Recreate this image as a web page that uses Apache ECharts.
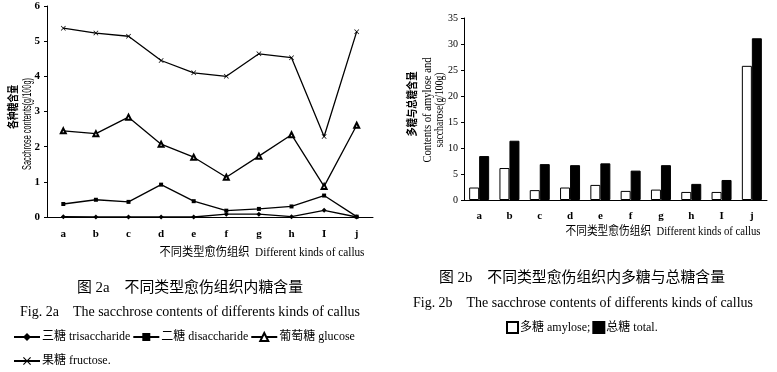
<!DOCTYPE html>
<html>
<head>
<meta charset="utf-8">
<script src="https://cdn.jsdelivr.net/npm/echarts@6/dist/echarts.min.js"></script>
<style>
  html, body { margin: 0; padding: 0; background: #fff; }
  #main { width: 777px; height: 372px; }
</style>
</head>
<body>
<div id="main"></div>
<script>
// 愈伤组织类别
var categories = ['a', 'b', 'c', 'd', 'e', 'f', 'g', 'h', 'I', 'j'];

// 图 2a 各种糖含量 (g/100g)
var trisaccharide = [0.01, 0, 0, 0, 0, 0.08, 0.08, 0.01, 0.19, 0];
var disaccharide = [0.37, 0.49, 0.43, 0.92, 0.45, 0.18, 0.23, 0.30, 0.61, 0.01];
var glucose = [2.45, 2.37, 2.84, 2.07, 1.70, 1.13, 1.73, 2.34, 0.87, 2.61];
var fructose = [5.37, 5.23, 5.14, 4.45, 4.10, 4.00, 4.64, 4.53, 2.29, 5.27];

// 图 2b 多糖与总糖含量 (g/100g)
var amylose = [2.4, 6.15, 1.9, 2.4, 2.9, 1.75, 2.0, 1.55, 1.55, 25.8];
var total = [8.45, 11.4, 6.9, 6.7, 7.05, 5.65, 6.7, 3.1, 3.85, 31.1];

var SERIF = '"Liberation Serif", "Noto Sans CJK SC", serif';
var SANS = '"Liberation Sans Narrow", "Liberation Sans", "Noto Sans CJK SC", sans-serif';
var CROSS = 'path://M0,1L1,0L5,4L9,0L10,1L6,5L10,9L9,10L5,6L1,10L0,9L4,5Z';

var chart = echarts.init(document.getElementById('main'));

// 量一下文字宽度，压扁到目标长度
var ctx = document.createElement('canvas').getContext('2d');
function fit(text, font, target) {
    ctx.font = font;
    var w = ctx.measureText(text).width;
    return target / w;
}

function txt(x, y, text, size, opt) {
    opt = opt || {};
    var font = (opt.bold ? 'bold ' : '') + size + 'px ' + (opt.family || SERIF);
    var o = {
        type: 'text', x: x, y: y,
        style: {
            text: text, fill: '#000', font: font,
            textAlign: 'center', textVerticalAlign: 'middle'
        }
    };
    if (opt.rot) o.rotation = Math.PI / 2;
    if (opt.len) o.scaleX = fit(text, font, opt.len);
    return o;
}

var option = {
    backgroundColor: '#fff',
    animation: false,
    grid: [
        { left: 47, top: 6, width: 326, height: 211 },
        { left: 464, top: 18, width: 303, height: 182 }
    ],
    xAxis: [
        {
            gridIndex: 0, type: 'category', data: categories,
            axisLine: { lineStyle: { color: '#000', width: 1 } },
            axisTick: { inside: true, length: 4, lineStyle: { color: '#000' } },
            axisLabel: { color: '#000', fontFamily: SERIF, fontSize: 11, fontWeight: 'bold', margin: 12 }
        },
        {
            gridIndex: 1, type: 'category', data: categories,
            axisLine: { lineStyle: { color: '#000', width: 1 } },
            axisTick: { inside: true, length: 4, lineStyle: { color: '#000' } },
            axisLabel: { color: '#000', fontFamily: SERIF, fontSize: 11, fontWeight: 'bold', margin: 11 }
        }
    ],
    yAxis: [
        {
            gridIndex: 0, type: 'value', min: 0, max: 6, interval: 1,
            axisLine: { show: true, lineStyle: { color: '#000' } },
            axisTick: { show: true, length: 3, lineStyle: { color: '#000' } },
            axisLabel: { color: '#000', fontFamily: SERIF, fontSize: 11, fontWeight: 'bold', margin: 7 },
            splitLine: { show: false }
        },
        {
            gridIndex: 1, type: 'value', min: 0, max: 35, interval: 5,
            axisLine: { show: true, lineStyle: { color: '#000' } },
            axisTick: { show: true, length: 3, lineStyle: { color: '#000' } },
            axisLabel: { color: '#000', fontFamily: SERIF, fontSize: 10, margin: 6 },
            splitLine: { show: false }
        }
    ],
    legend: [
        {
            data: ['三糖 trisaccharide', '二糖 disaccharide', '葡萄糖 glucose'],
            left: 8, top: 326, itemWidth: 26, itemHeight: 10, itemGap: 2,
            textStyle: { color: '#000', fontFamily: SERIF, fontSize: 12, padding: [0, 0, 0, -3] }
        },
        {
            data: ['果糖 fructose.'],
            left: 8, top: 350, itemWidth: 26, itemHeight: 10, itemGap: 2,
            textStyle: { color: '#000', fontFamily: SERIF, fontSize: 12, padding: [0, 0, 0, -3] }
        },
        {
            data: ['多糖 amylose;', '总糖 total.'],
            left: 501, top: 316, itemWidth: 11, itemHeight: 11, itemGap: 2, icon: 'rect',
            textStyle: { color: '#000', fontFamily: SERIF, fontSize: 12, padding: [0, 0, 0, -3] }
        }
    ],
    series: [
        {
            name: '三糖 trisaccharide', type: 'line', xAxisIndex: 0, yAxisIndex: 0,
            data: trisaccharide, symbol: 'diamond', symbolSize: 5,
            lineStyle: { color: '#000', width: 1.3 }, itemStyle: { color: '#000' }
        },
        {
            name: '二糖 disaccharide', type: 'line', xAxisIndex: 0, yAxisIndex: 0,
            data: disaccharide, symbol: 'rect', symbolSize: 4,
            lineStyle: { color: '#000', width: 1.3 }, itemStyle: { color: '#000' }
        },
        {
            name: '葡萄糖 glucose', type: 'line', xAxisIndex: 0, yAxisIndex: 0,
            data: glucose, symbol: 'emptyTriangle', symbolSize: 5,
            lineStyle: { color: '#000', width: 1.3 }, itemStyle: { color: '#000', borderWidth: 1 }
        },
        {
            name: '果糖 fructose.', type: 'line', xAxisIndex: 0, yAxisIndex: 0,
            data: fructose, symbol: CROSS, symbolSize: 5,
            lineStyle: { color: '#000', width: 1.3 }, itemStyle: { color: '#000' }
        },
        {
            name: '多糖 amylose;', type: 'bar', xAxisIndex: 1, yAxisIndex: 1,
            data: amylose, barWidth: 10, barGap: '0%',
            itemStyle: { color: '#fff', borderColor: '#000', borderWidth: 1 }
        },
        {
            name: '总糖 total.', type: 'bar', xAxisIndex: 1, yAxisIndex: 1,
            data: total, barWidth: 10, barGap: '0%',
            itemStyle: { color: '#000', borderColor: '#000', borderWidth: 1 }
        }
    ],
    graphic: [
        // 图 2a 纵轴名
        txt(14, 107, '各种糖含量', 11, { rot: true, family: SANS, len: 44, bold: true }),
        txt(28, 124, 'Sacchrose contents(g/100g)', 12, { rot: true, family: SANS, len: 92 }),
        txt(262, 253, '不同类型愈伤组织  Different kinds of callus', 12, { len: 205 }),
        txt(190, 288, '图 2a    不同类型愈伤组织内糖含量', 15, { len: 226 }),
        txt(190, 312, 'Fig. 2a    The sacchrose contents of differents kinds of callus', 14, { len: 340 }),
        // 图 2b
        txt(413, 104, '多糖与总糖含量', 11, { rot: true, family: SANS, len: 65, bold: true }),
        txt(428, 110, 'Contents of amylose and', 12, { rot: true, len: 105 }),
        txt(440, 110, 'saccharose(g/100g)', 12, { rot: true, len: 75 }),
        txt(663, 232, '不同类型愈伤组织  Different kinds of callus', 12, { len: 195 }),
        txt(582, 278, '图 2b    不同类型愈伤组织内多糖与总糖含量', 15, { len: 286 }),
        txt(583, 303, 'Fig. 2b    The sacchrose contents of differents kinds of callus', 14, { len: 340 })
    ]
};

chart.setOption(option);
</script>
</body>
</html>
